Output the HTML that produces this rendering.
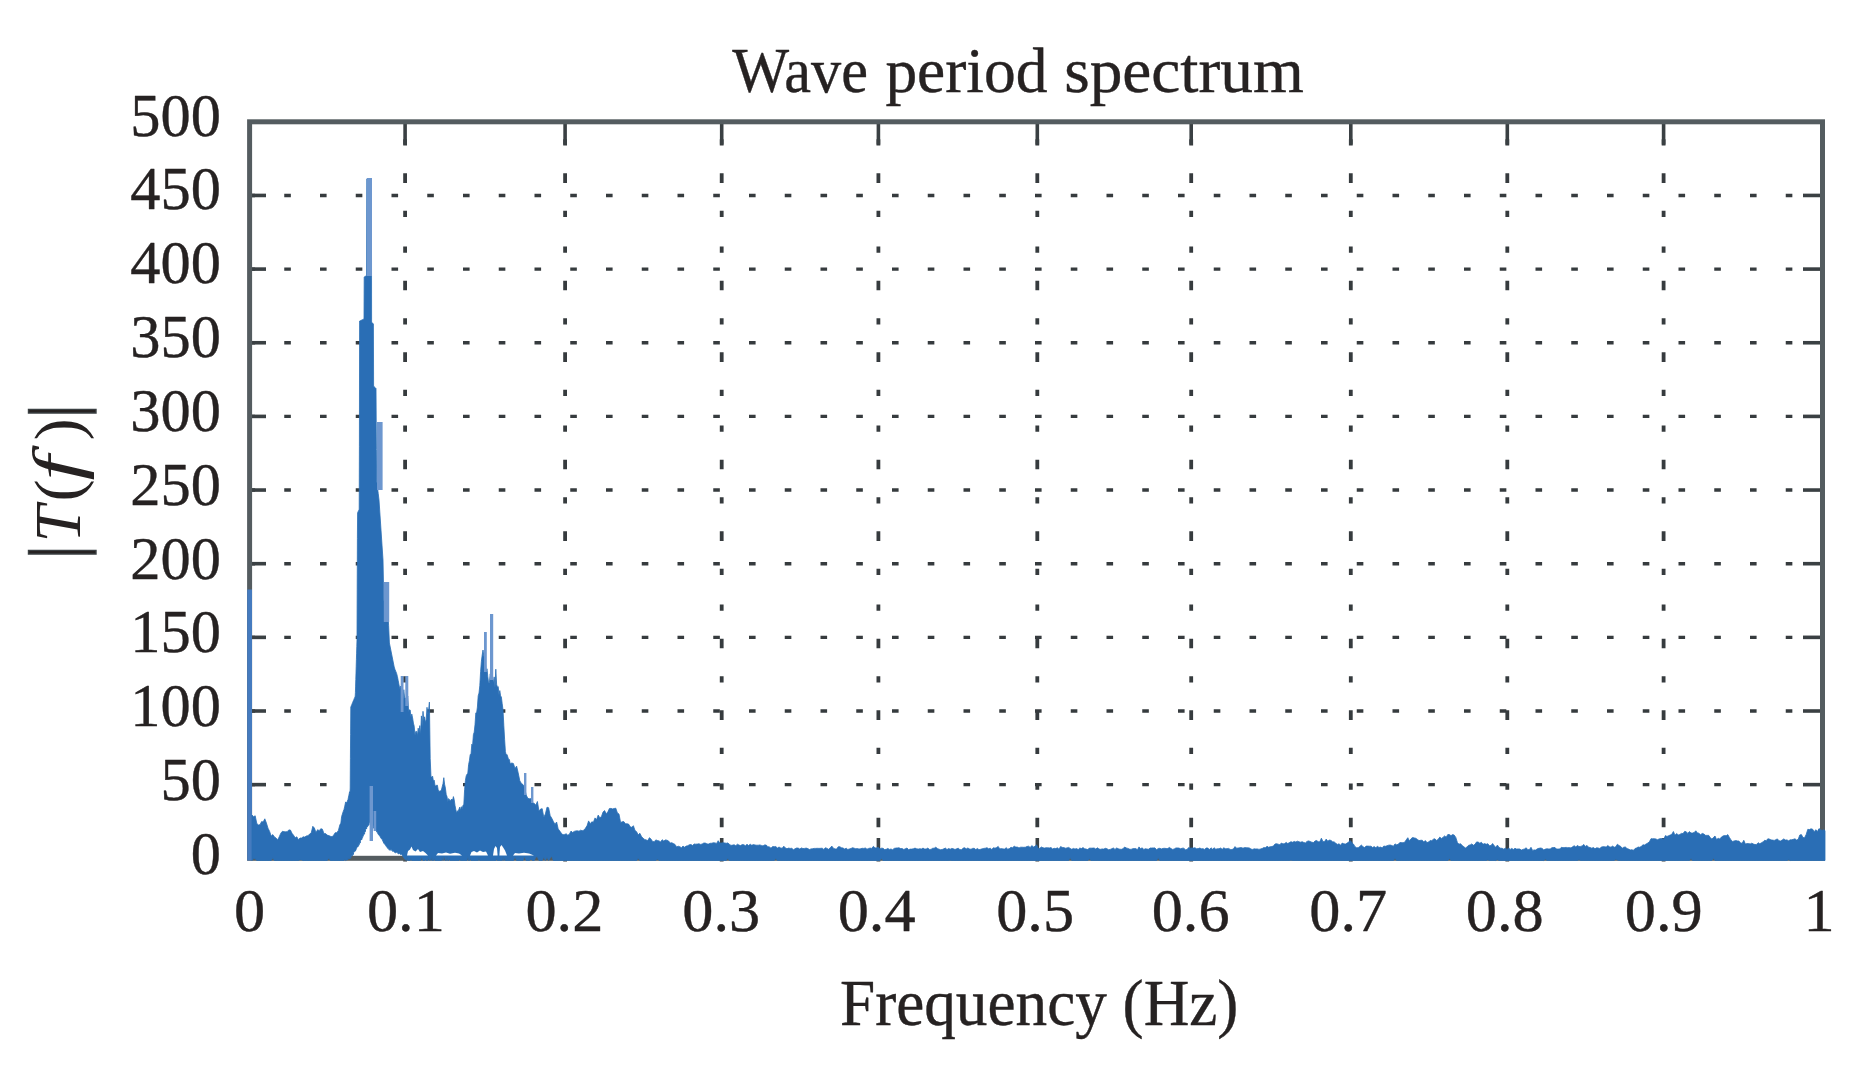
<!DOCTYPE html>
<html lang="en"><head><meta charset="utf-8"><title>Wave period spectrum</title>
<style>
html,body{margin:0;padding:0;background:#fff;}
body{width:1872px;height:1070px;overflow:hidden;}
svg{display:block;filter:blur(0.55px);}
text{font-family:"Liberation Serif","DejaVu Serif",serif;fill:#262222;}
.tk{font-size:60px;}
</style></head><body>
<svg width="1872" height="1070" viewBox="0 0 1872 1070">
<rect width="1872" height="1070" fill="#fff"/>

<g stroke="#363b3e" fill="none">
<line x1="248.5" y1="784.65" x2="1822" y2="784.65" stroke-width="3.4" stroke-dasharray="6.6 29.15"/>
<line x1="248.5" y1="711.00" x2="1822" y2="711.00" stroke-width="3.4" stroke-dasharray="6.6 29.15"/>
<line x1="248.5" y1="637.35" x2="1822" y2="637.35" stroke-width="3.4" stroke-dasharray="6.6 29.15"/>
<line x1="248.5" y1="563.70" x2="1822" y2="563.70" stroke-width="3.4" stroke-dasharray="6.6 29.15"/>
<line x1="248.5" y1="490.05" x2="1822" y2="490.05" stroke-width="3.4" stroke-dasharray="6.6 29.15"/>
<line x1="248.5" y1="416.40" x2="1822" y2="416.40" stroke-width="3.4" stroke-dasharray="6.6 29.15"/>
<line x1="248.5" y1="342.75" x2="1822" y2="342.75" stroke-width="3.4" stroke-dasharray="6.6 29.15"/>
<line x1="248.5" y1="269.10" x2="1822" y2="269.10" stroke-width="3.4" stroke-dasharray="6.6 29.15"/>
<line x1="248.5" y1="195.45" x2="1822" y2="195.45" stroke-width="3.4" stroke-dasharray="6.6 29.15"/>
<line x1="405.10" y1="861.40" x2="405.10" y2="122" stroke-width="3.8" stroke-dasharray="6.20 27.90 9.60 27.90 6.20 29.60 6.20 27.90 9.60 27.90"/>
<line x1="565.10" y1="861.40" x2="565.10" y2="122" stroke-width="3.8" stroke-dasharray="6.20 27.90 9.60 27.90 6.20 29.60 6.20 27.90 9.60 27.90"/>
<line x1="721.70" y1="861.40" x2="721.70" y2="122" stroke-width="3.8" stroke-dasharray="6.20 27.90 9.60 27.90 6.20 29.60 6.20 27.90 9.60 27.90"/>
<line x1="878.40" y1="861.40" x2="878.40" y2="122" stroke-width="3.8" stroke-dasharray="6.20 27.90 9.60 27.90 6.20 29.60 6.20 27.90 9.60 27.90"/>
<line x1="1037.30" y1="861.40" x2="1037.30" y2="122" stroke-width="3.8" stroke-dasharray="6.20 27.90 9.60 27.90 6.20 29.60 6.20 27.90 9.60 27.90"/>
<line x1="1191.20" y1="861.40" x2="1191.20" y2="122" stroke-width="3.8" stroke-dasharray="6.20 27.90 9.60 27.90 6.20 29.60 6.20 27.90 9.60 27.90"/>
<line x1="1350.80" y1="861.40" x2="1350.80" y2="122" stroke-width="3.8" stroke-dasharray="6.20 27.90 9.60 27.90 6.20 29.60 6.20 27.90 9.60 27.90"/>
<line x1="1507.30" y1="861.40" x2="1507.30" y2="122" stroke-width="3.8" stroke-dasharray="6.20 27.90 9.60 27.90 6.20 29.60 6.20 27.90 9.60 27.90"/>
<line x1="1663.60" y1="861.40" x2="1663.60" y2="122" stroke-width="3.8" stroke-dasharray="6.20 27.90 9.60 27.90 6.20 29.60 6.20 27.90 9.60 27.90"/>
</g>
<g stroke="#3a4043" stroke-width="3.6" fill="none">
<line x1="249.5" y1="784.65" x2="266" y2="784.65"/>
<line x1="1822.5" y1="784.65" x2="1803" y2="784.65"/>
<line x1="249.5" y1="711.00" x2="266" y2="711.00"/>
<line x1="1822.5" y1="711.00" x2="1803" y2="711.00"/>
<line x1="249.5" y1="637.35" x2="266" y2="637.35"/>
<line x1="1822.5" y1="637.35" x2="1803" y2="637.35"/>
<line x1="249.5" y1="563.70" x2="266" y2="563.70"/>
<line x1="1822.5" y1="563.70" x2="1803" y2="563.70"/>
<line x1="249.5" y1="490.05" x2="266" y2="490.05"/>
<line x1="1822.5" y1="490.05" x2="1803" y2="490.05"/>
<line x1="249.5" y1="416.40" x2="266" y2="416.40"/>
<line x1="1822.5" y1="416.40" x2="1803" y2="416.40"/>
<line x1="249.5" y1="342.75" x2="266" y2="342.75"/>
<line x1="1822.5" y1="342.75" x2="1803" y2="342.75"/>
<line x1="249.5" y1="269.10" x2="266" y2="269.10"/>
<line x1="1822.5" y1="269.10" x2="1803" y2="269.10"/>
<line x1="249.5" y1="195.45" x2="266" y2="195.45"/>
<line x1="1822.5" y1="195.45" x2="1803" y2="195.45"/>
<line x1="405.10" y1="121.80" x2="405.10" y2="144.5"/>
<line x1="405.10" y1="858.30" x2="405.10" y2="838"/>
<line x1="565.10" y1="121.80" x2="565.10" y2="144.5"/>
<line x1="565.10" y1="858.30" x2="565.10" y2="838"/>
<line x1="721.70" y1="121.80" x2="721.70" y2="144.5"/>
<line x1="721.70" y1="858.30" x2="721.70" y2="838"/>
<line x1="878.40" y1="121.80" x2="878.40" y2="144.5"/>
<line x1="878.40" y1="858.30" x2="878.40" y2="838"/>
<line x1="1037.30" y1="121.80" x2="1037.30" y2="144.5"/>
<line x1="1037.30" y1="858.30" x2="1037.30" y2="838"/>
<line x1="1191.20" y1="121.80" x2="1191.20" y2="144.5"/>
<line x1="1191.20" y1="858.30" x2="1191.20" y2="838"/>
<line x1="1350.80" y1="121.80" x2="1350.80" y2="144.5"/>
<line x1="1350.80" y1="858.30" x2="1350.80" y2="838"/>
<line x1="1507.30" y1="121.80" x2="1507.30" y2="144.5"/>
<line x1="1507.30" y1="858.30" x2="1507.30" y2="838"/>
<line x1="1663.60" y1="121.80" x2="1663.60" y2="144.5"/>
<line x1="1663.60" y1="858.30" x2="1663.60" y2="838"/>
</g>
<rect x="249.6" y="121.8" width="1572.9" height="736.5" fill="none" stroke="#545c60" stroke-width="5"/>
<rect x="247.2" y="589.5" width="4.8" height="271" fill="#457bbf"/>
<path fill="#2a6eb5" stroke="#2a6eb5" stroke-width="0.8" stroke-linejoin="round" d="M252,815.1 253.6,816.7 255.2,815.8 256.8,823.5 258.4,824.9 260,824.7 261.6,821.6 263.2,822 264.8,818.8 266.4,823 268,828.2 269.6,831.4 271.2,836.1 272.8,834.6 274.4,836.9 276,838 277.6,839.9 279.2,836.9 280.8,833.2 282.4,831.3 284,831.7 285.6,831.8 287.2,831.7 288.8,829.9 290.4,830 292,833.3 293.6,835.3 295.2,837.8 296.8,836.8 298.4,839.7 300,838 301.6,838 303.2,836.8 304.8,837.1 306.4,835.9 308,835.8 309.6,834 311.2,833.1 312.8,826.3 314.4,828 316,832.6 317.6,829.7 319.2,830.7 320.8,828.7 322.4,829.2 324,833.7 325.6,833.6 327.2,835.1 328.8,835.6 330.4,836.3 332,836.7 333.6,835.3 335.2,832.7 336.8,832.7 338.4,830.4 340,824.3 340.8,823.6 341.6,816.6 342.4,814.1 343.2,811.5 344,809.4 344.8,806.1 345.6,801.9 346.4,802.8 347.2,801.5 348,799.5 348.8,795.6 349.6,791.7 349.8,792.3 350,793 350.2,787.9 350.4,758.6 350.6,734.7 350.8,707 351,706.5 351.2,706 351.4,705.5 351.6,705 351.8,704.6 352,704.1 352.2,703.6 352.4,703.1 352.6,702.6 352.8,702.1 353,701.6 353.2,701.1 353.4,700.6 353.6,700.2 353.8,699.7 354,699.2 354.2,698.7 354.4,698.2 354.6,697.7 354.8,697.2 355,696.7 355.2,696.2 355.4,692.7 355.6,686.1 355.8,679.5 356,672.9 356.2,666.4 356.4,659.8 356.6,653.2 356.8,646.6 357,640 357.2,589.2 357.4,538.4 357.6,512.8 357.8,512.3 358,511.9 358.2,511.4 358.4,511 358.6,510.6 358.8,510.1 359,509.7 359.2,509.2 359.4,446.3 359.6,321 359.8,320.9 360,320.8 360.2,320.7 360.4,320.6 360.6,320.5 360.8,320.5 361,320.4 361.2,320.3 361.4,320.2 361.6,320.1 361.8,320 362,319.9 362.2,319.8 362.4,319.7 362.6,319.6 362.8,319.5 363,319.5 363.2,319.4 363.4,319.3 363.6,319.2 363.8,319.1 364,319 364.2,277 364.4,276.9 364.6,276.7 364.8,276.6 365,276.5 365.2,276.4 365.4,276.2 365.6,276.1 365.8,276 366,275.9 366.2,275.7 366.4,275.6 366.6,275.5 366.8,179 367,179 367.2,179 367.4,179 367.6,179 367.8,179 368,179 368.2,179 368.4,179 368.6,179 368.8,179 369,179 369.2,179 369.4,179 369.6,179 369.8,179 370,179 370.2,179 370.4,179 370.6,179 370.8,179 371,179 371.2,179 371.4,179 371.6,322 371.8,322.2 372,322.4 372.2,322.7 372.4,322.9 372.6,323.1 372.8,323.3 373,323.6 373.2,323.8 373.4,324 373.6,386 373.8,386.2 374,386.4 374.2,386.6 374.4,386.8 374.6,387 374.8,387.2 375,387.5 375.2,387.7 375.4,387.9 375.6,388.1 375.8,388.3 376,388.5 376.2,419 376.4,449.5 376.6,480 376.8,481.7 377,483.3 377.2,485 377.4,486.7 377.6,488.3 377.8,490 378,491.7 378.2,493.3 379,500 379.8,512 380.6,524 381.4,536 382.2,548 383,560 383.8,600.3 384.6,602.5 385.4,604.7 386.2,607 387,609.2 387.8,611.4 388.6,625.3 389.4,643 390.2,647 391,651 391.8,655 392.6,659 393.4,663 394.2,667 395,669.5 395.8,671.4 396.6,673.4 397.4,676.5 398.2,680.6 399,684.8 399.8,689 400.6,686.1 401.4,687.5 402.2,696.7 403,699.8 403.8,689.7 404.6,697.6 405.4,697.9 406.2,702.1 407,698.4 407.8,696.1 408.6,711.4 409.4,709.8 410.2,710.1 411,717.3 411.8,714.1 412.6,717.9 413.4,723.1 414.2,726.2 415,735.3 415.8,731.4 416.6,731.5 417.4,735.8 418.2,728.2 419,733.1 419.8,725.6 420.6,735 421.4,715.9 422.2,726.8 423,711.3 423.8,720.7 424.6,716.8 425.4,722.6 426.2,719.5 427,707.3 427.8,714.4 428.6,710.3 429.4,702.1 430.2,758.6 431,777 431.8,777.1 432.6,776.2 433.4,781.1 434.2,780.2 435,785.5 435.8,786 436.6,785.2 437.4,785.2 438.2,789.9 439,791.6 439.8,790.9 440.6,790.8 441.4,790.1 442.2,786.8 443,783.7 443.8,777.7 444.6,784.3 445.4,788.1 446.2,794.4 447,796.6 447.8,801.8 448.6,798.6 449.4,799.5 450.2,801.3 451,799.8 451.8,799 452.6,800.3 453.4,796.6 454.2,799.7 455,805.4 455.8,809.5 456.6,813.3 457.4,810.7 458.2,811.5 459,809 459.8,807.1 460.6,810.5 461.4,806.7 462.2,808.7 463,805.2 463.8,804.8 464.6,789.7 465.4,780.6 466.2,775.9 467,774.2 467.8,773.3 468.6,764.6 469.4,760.7 470.2,754.5 471,754.3 471.8,744.2 472.6,745.3 473.4,734.6 474.2,732.2 475,724.8 475.8,712.9 476.6,713 477.4,707.1 478.2,695.8 479,693.1 479.8,685.7 480.6,671.6 481.4,661.3 482.2,655 483,650 483.8,655.9 484.6,659 485.4,662.7 486.2,671.4 487,668.8 487.8,676.6 488.6,683 489.4,682.8 490.2,673.9 491,676.5 491.8,665.6 492.6,677.3 493.4,683.3 494.2,676.9 495,687.8 495.8,669.2 496.6,684.2 497.4,687.2 498.2,686.6 499,694.9 499.8,690.6 500.6,695.9 501.4,697.1 502.2,703.7 503,709.7 503.8,725.3 504.6,739.3 505.4,751.5 506.2,755 507,754.4 507.8,757 508.6,759.5 509.4,759.5 510.2,763.8 511.8,763 513.4,763.5 515,768.6 516.6,766.1 518.2,772.9 519.8,780.8 521.4,783.4 523,784.6 524.6,787.8 526.2,795 527.8,798.3 529.4,798.7 531,798.7 532.6,802.9 534.2,803.3 535.8,805.2 537.4,801.5 539,811.3 540.6,809 542.2,808.7 543.8,817.2 545.4,813.9 547,807.2 548.6,807.7 550.2,815.7 551.8,818.3 553.4,821.6 555,824.4 556.6,822 558.2,828.9 559.8,831.1 561.4,833.3 563,834.8 564.6,834.4 566.2,833.8 567.8,835.2 569.4,834.2 571,831.1 572.6,832.5 574.2,831.4 575.8,830.9 577.4,830.8 579,831.2 580.6,830.2 582.2,830.7 583.8,830.2 585.4,828.3 587,825.8 588.6,820.9 590.2,823.7 591.8,821.8 593.4,822.3 595,817.9 596.6,819.6 598.2,815.1 599.8,817.8 601.4,816.7 603,812.1 604.6,810.6 606.2,813.7 607.8,812 609.4,808.5 611,808.4 612.6,808.9 614.2,808.5 615.8,808.2 617.4,812.9 619,814.1 620.6,822.5 622.2,821.8 623.8,821.6 625.4,823.8 627,823.8 628.6,824.1 630.2,826.8 631.8,827.3 633.4,825.7 635,830.5 636.6,831.7 638.2,835 639.8,833.2 641.4,836.3 643,838.2 644.6,839.4 646.2,839.9 647.8,840.6 649.4,837.7 651,839.1 652.6,841.5 654.2,841.7 655.8,839.9 657.4,840.5 659,840.9 660.6,841.9 662.2,839.7 663.8,841.1 665.4,839.9 667,840.2 668.6,841 670.2,843.1 671.8,842.7 673.4,843.6 675,844.4 676.6,846.9 678.2,846.2 679.8,846.7 681.4,847.7 683,846.1 684.6,847.2 686.2,846.1 687.8,845.7 689.4,844.7 691,844.6 692.6,845.5 694.2,843.9 695.8,844.2 697.4,844 699,843.8 700.6,844.4 702.2,844 703.8,843 705.4,843.1 707,843.9 708.6,844 710.2,843.3 711.8,843.2 713.4,842.7 715,842.9 716.6,843.4 718.2,840.7 719.8,843.1 721.4,843 723,842.8 724.6,842.9 726.2,843.3 727.8,842.9 729.4,844.3 731,845.4 732.6,845.1 734.2,844.8 735.8,845.7 737.4,844.2 739,845.1 740.6,845.6 742.2,844.6 743.8,844.7 745.4,845.8 747,844.3 748.6,845.6 750.2,844.2 751.8,845.3 753.4,844.6 755,845 756.6,845.2 758.2,845.2 759.8,844.9 761.4,845.4 763,845.9 764.6,844.9 766.2,845 767.8,846.7 769.4,846.9 771,848.2 772.6,846.5 774.2,846.7 775.8,846.6 777.4,848.1 779,847 780.6,847.9 782.2,848.3 783.8,846.2 785.4,848 787,848.7 788.6,848.1 790.2,848.4 791.8,848.3 793.4,849.7 795,848.8 796.6,848 798.2,848.1 799.8,849.1 801.4,847.9 803,848.6 804.6,848.4 806.2,848.1 807.8,848.6 809.4,849.5 811,848.9 812.6,848.7 814.2,848.4 815.8,848.4 817.4,848.3 819,848.4 820.6,848.3 822.2,848.2 823.8,849.4 825.4,847.7 827,848.4 828.6,849.3 830.2,847.8 831.8,846.1 833.4,848.2 835,848.9 836.6,849.1 838.2,846.8 839.8,846.7 841.4,847.7 843,848 844.6,849 846.2,848.2 847.8,849.5 849.4,848.9 851,848.5 852.6,847.7 854.2,848.2 855.8,848.8 857.4,848.5 859,849.1 860.6,848.7 862.2,848.3 863.8,848.4 865.4,848 867,849.2 868.6,848.4 870.2,848.1 871.8,848.4 873.4,846.3 875,847.9 876.6,847.9 878.2,847.3 879.8,849 881.4,848.2 883,848.3 884.6,849.6 886.2,849.3 887.8,848.4 889.4,849.4 891,849 892.6,849.7 894.2,848.4 895.8,848.1 897.4,847.9 899,847.8 900.6,848.6 902.2,848.6 903.8,849.5 905.4,848.7 907,848 908.6,849.7 910.2,849.1 911.8,849.1 913.4,848.8 915,848.1 916.6,848.8 918.2,849.1 919.8,848.7 921.4,849 923,848.1 924.6,849 926.2,849 927.8,848.1 929.4,849.4 931,849.4 932.6,848.3 934.2,848.2 935.8,847.2 937.4,848.6 939,849.2 940.6,849.7 942.2,849.5 943.8,848.8 945.4,848.1 947,849.6 948.6,848.5 950.2,849.2 951.8,848.4 953.4,848.8 955,849.5 956.6,848.8 958.2,848.2 959.8,849.5 961.4,849.8 963,848.2 964.6,847.7 966.2,848.9 967.8,848 969.4,848.9 971,849.3 972.6,848.4 974.2,848.3 975.8,849.6 977.4,848.5 979,849.7 980.6,849.3 982.2,848.8 983.8,848.4 985.4,848.2 987,847.7 988.6,848.8 990.2,848.2 991.8,849.5 993.4,847.7 995,848.2 996.6,847.6 998.2,846.4 999.8,848.9 1001.4,848.6 1003,848.9 1004.6,849 1006.2,847.7 1007.8,849.2 1009.4,848.6 1011,847.3 1012.6,847.7 1014.2,846.2 1015.8,847.1 1017.4,847.1 1019,847.9 1020.6,847.2 1022.2,847.2 1023.8,847.3 1025.4,847.2 1027,846.5 1028.6,846.2 1030.2,847.5 1031.8,845.6 1033.4,847 1035,846.3 1036.6,844.9 1038.2,848.5 1039.8,848.3 1041.4,847 1043,847.8 1044.6,848.1 1046.2,847.7 1047.8,847.8 1049.4,847.9 1051,847.6 1052.6,848.9 1054.2,848.3 1055.8,848.6 1057.4,847.8 1059,849.2 1060.6,846.5 1062.2,847.4 1063.8,847.6 1065.4,848.2 1067,847.9 1068.6,847.4 1070.2,848.4 1071.8,849.3 1073.4,848.4 1075,849.1 1076.6,848.6 1078.2,849.6 1079.8,848 1081.4,848.6 1083,847.6 1084.6,848.8 1086.2,849.1 1087.8,849.6 1089.4,848 1091,848.2 1092.6,848.1 1094.2,848 1095.8,849.1 1097.4,847.8 1099,849 1100.6,849.3 1102.2,848.9 1103.8,849.1 1105.4,848.3 1107,848.8 1108.6,849.7 1110.2,849.4 1111.8,848.7 1113.4,848 1115,849.4 1116.6,848 1118.2,848.7 1119.8,849.2 1121.4,849.3 1123,848.8 1124.6,847 1126.2,847.9 1127.8,848.4 1129.4,849.1 1131,849.4 1132.6,848.7 1134.2,848.6 1135.8,848.6 1137.4,849.8 1139,846.9 1140.6,848.8 1142.2,847.8 1143.8,849.5 1145.4,848.7 1147,849.1 1148.6,849.2 1150.2,848 1151.8,848 1153.4,847.9 1155,847.9 1156.6,849.8 1158.2,848.5 1159.8,848.3 1161.4,848.9 1163,848.4 1164.6,848.3 1166.2,848.5 1167.8,848.5 1169.4,847.4 1171,848.6 1172.6,849.4 1174.2,849 1175.8,848 1177.4,847.9 1179,848.1 1180.6,848.8 1182.2,848.2 1183.8,848.2 1185.4,849.7 1187,849.6 1188.6,847.6 1190.2,848.2 1191.8,848 1193.4,848 1195,847.8 1196.6,848.8 1198.2,848.6 1199.8,848 1201.4,848.8 1203,848.7 1204.6,849.4 1206.2,848 1207.8,848.1 1209.4,849.6 1211,847.8 1212.6,849.2 1214.2,847.8 1215.8,849.2 1217.4,848.7 1219,848.8 1220.6,848 1222.2,849.3 1223.8,847.8 1225.4,848.7 1227,848.7 1228.6,848.4 1230.2,849.4 1231.8,849.5 1233.4,849 1235,846.6 1236.6,848.2 1238.2,848 1239.8,847.7 1241.4,847.6 1243,848.2 1244.6,847.6 1246.2,847.7 1247.8,847.8 1249.4,848 1251,849.1 1252.6,849.4 1254.2,848.8 1255.8,849 1257.4,848.9 1259,849.4 1260.6,848.9 1262.2,848.5 1263.8,847.6 1265.4,847.8 1267,846.2 1268.6,847.3 1270.2,846.7 1271.8,846.5 1273.4,846.1 1275,844 1276.6,843.7 1278.2,844.2 1279.8,844.7 1281.4,843 1283,843.9 1284.6,843.6 1286.2,842.4 1287.8,843.6 1289.4,842.6 1291,841.7 1292.6,842.3 1294.2,841.4 1295.8,842 1297.4,841.2 1299,841.8 1300.6,842.2 1302.2,841.7 1303.8,842.5 1305.4,842.9 1307,841.4 1308.6,840.9 1310.2,841.5 1311.8,842.2 1313.4,842.6 1315,841 1316.6,840.5 1318.2,841.7 1319.8,841.8 1321.4,838.2 1323,841.7 1324.6,841.5 1326.2,839.1 1327.8,841.2 1329.4,840.1 1331,840.4 1332.6,841.8 1334.2,841.9 1335.8,843.3 1337.4,844.4 1339,843.8 1340.6,845.2 1342.2,843.1 1343.8,843.8 1345.4,844.1 1347,843.2 1348.6,842 1350.2,840.5 1351.8,842.5 1353.4,844 1355,846.7 1356.6,847.7 1358.2,847.7 1359.8,846.4 1361.4,845.1 1363,846.7 1364.6,847.6 1366.2,846 1367.8,846.1 1369.4,846.2 1371,846.2 1372.6,847.5 1374.2,846.6 1375.8,847.8 1377.4,846.2 1379,847.5 1380.6,847.1 1382.2,847.9 1383.8,846 1385.4,846.3 1387,845.8 1388.6,845.2 1390.2,845 1391.8,845.5 1393.4,846.2 1395,843.9 1396.6,844.8 1398.2,844.3 1399.8,842.6 1401.4,842.6 1403,842.8 1404.6,842.3 1406.2,839.9 1407.8,837.7 1409.4,840.9 1411,838.8 1412.6,837.5 1414.2,837.9 1415.8,838.3 1417.4,839.4 1419,840.6 1420.6,840.3 1422.2,840.2 1423.8,841.9 1425.4,840.6 1427,842.6 1428.6,842 1430.2,840.4 1431.8,840.7 1433.4,839.2 1435,838.8 1436.6,840.6 1438.2,839.3 1439.8,837.1 1441.4,838.5 1443,837.4 1444.6,835.9 1446.2,837.2 1447.8,834.5 1449.4,834.6 1451,835.7 1452.6,834.6 1454.2,835.1 1455.8,837.4 1457.4,842.5 1459,844.2 1460.6,843.7 1462.2,845.6 1463.8,846.7 1465.4,848 1467,847 1468.6,845.3 1470.2,844.9 1471.8,843.9 1473.4,845.3 1475,844.3 1476.6,841.9 1478.2,842.1 1479.8,843.2 1481.4,842.3 1483,844.3 1484.6,843.6 1486.2,844.3 1487.8,843.7 1489.4,845.7 1491,845.5 1492.6,843.5 1494.2,845.8 1495.8,847.3 1497.4,845.1 1499,847.4 1500.6,848.2 1502.2,848.3 1503.8,849.2 1505.4,848 1507,849.6 1508.6,848 1510.2,849.4 1511.8,848.4 1513.4,849.5 1515,848.3 1516.6,849.1 1518.2,848.9 1519.8,849 1521.4,850.1 1523,849.4 1524.6,848.9 1526.2,847.8 1527.8,849.7 1529.4,849.6 1531,847.3 1532.6,850.4 1534.2,849.9 1535.8,850 1537.4,848.7 1539,848.3 1540.6,848 1542.2,848.4 1543.8,849.9 1545.4,849.1 1547,848.8 1548.6,848.9 1550.2,849 1551.8,847.8 1553.4,847.5 1555,847.5 1556.6,849.1 1558.2,849 1559.8,848.9 1561.4,847.3 1563,847.7 1564.6,847.5 1566.2,847.4 1567.8,847.7 1569.4,847.6 1571,847.9 1572.6,846.8 1574.2,845.7 1575.8,847 1577.4,845.4 1579,846.6 1580.6,846.4 1582.2,845.9 1583.8,844.4 1585.4,846.5 1587,845.4 1588.6,847.3 1590.2,847.5 1591.8,848.2 1593.4,847.5 1595,848.8 1596.6,847.8 1598.2,848 1599.8,848.5 1601.4,847.1 1603,846.7 1604.6,846.7 1606.2,847.1 1607.8,845.6 1609.4,846.8 1611,847.2 1612.6,846.1 1614.2,847.3 1615.8,846.7 1617.4,844.2 1619,845.5 1620.6,846.3 1622.2,848.3 1623.8,847.2 1625.4,847 1627,848.6 1628.6,849.1 1630.2,849.9 1631.8,849.7 1633.4,850.3 1635,848.6 1636.6,847.9 1638.2,847 1639.8,847.3 1641.4,846.3 1643,844.8 1644.6,845 1646.2,843.9 1647.8,843 1649.4,841.8 1651,838.7 1652.6,838.8 1654.2,838.7 1655.8,838.9 1657.4,839.7 1659,839 1660.6,838.6 1662.2,838.8 1663.8,839.2 1665.4,835.6 1667,836.5 1668.6,835.7 1670.2,835.1 1671.8,834.3 1673.4,831.5 1675,835.3 1676.6,833.5 1678.2,834.9 1679.8,834.5 1681.4,833.4 1683,833.6 1684.6,831.4 1686.2,831.7 1687.8,833.4 1689.4,831.6 1691,833 1692.6,833 1694.2,832.5 1695.8,830.8 1697.4,832.9 1699,833.2 1700.6,834.8 1702.2,833.4 1703.8,833.9 1705.4,835.3 1707,835.4 1708.6,835.3 1710.2,837.4 1711.8,839.1 1713.4,837.5 1715,836 1716.6,839.6 1718.2,838.3 1719.8,839 1721.4,837.1 1723,836 1724.6,835.5 1726.2,835.8 1727.8,834.6 1729.4,837.4 1731,839.9 1732.6,841.5 1734.2,840.9 1735.8,840.6 1737.4,840.9 1739,841.1 1740.6,843 1742.2,843.2 1743.8,840.3 1745.4,844.1 1747,843.6 1748.6,843.6 1750.2,843.9 1751.8,843.2 1753.4,844 1755,844.6 1756.6,844.4 1758.2,842.7 1759.8,843.8 1761.4,842.8 1763,841.9 1764.6,840.3 1766.2,840.7 1767.8,838.8 1769.4,839.1 1771,839.9 1772.6,840.1 1774.2,840.4 1775.8,839.7 1777.4,838.9 1779,840.8 1780.6,841 1782.2,840 1783.8,838.9 1785.4,840 1787,839.9 1788.6,840.8 1790.2,839.8 1791.8,839.8 1793.4,839.3 1795,838.8 1796.6,840.1 1798.2,839.3 1799.8,835 1801.4,834.6 1803,837.6 1804.6,837.7 1806.2,834.4 1807.8,829.3 1809.4,829.6 1811,828.8 1812.6,829.2 1814.2,831.7 1815.8,829.7 1817.4,831.6 1819,828.6 1820.6,829.8 1822.2,830.5 1823.8,829.8 1825,830.6 L1825,860.5 1823.8,860.5 1822.2,860.5 1820.6,860.5 1819,860.5 1817.4,860.5 1815.8,860.5 1814.2,860.5 1812.6,860.5 1811,860.5 1809.4,860.5 1807.8,860.5 1806.2,860.5 1804.6,860.5 1803,860.5 1801.4,860.5 1799.8,860.5 1798.2,860.5 1796.6,860.5 1795,860.5 1793.4,860.5 1791.8,860.5 1790.2,860.5 1788.6,859.5 1787,860.5 1785.4,860.5 1783.8,860.5 1782.2,860.5 1780.6,860.5 1779,860.5 1777.4,860.5 1775.8,860.5 1774.2,860.5 1772.6,860.5 1771,860.5 1769.4,860.5 1767.8,860.5 1766.2,860.5 1764.6,860.5 1763,860.5 1761.4,860.5 1759.8,860.5 1758.2,860.5 1756.6,860.5 1755,860.5 1753.4,860.5 1751.8,860.5 1750.2,860.5 1748.6,860.5 1747,860.5 1745.4,860.5 1743.8,860.5 1742.2,860.5 1740.6,860.5 1739,860.5 1737.4,860.5 1735.8,860.5 1734.2,860.5 1732.6,860.5 1731,860.5 1729.4,860.5 1727.8,860.5 1726.2,860.5 1724.6,860.5 1723,860.5 1721.4,860.5 1719.8,860.5 1718.2,860.5 1716.6,860.5 1715,860.5 1713.4,858.1 1711.8,860.5 1710.2,860.5 1708.6,860.5 1707,860.5 1705.4,860.5 1703.8,860.5 1702.2,860.5 1700.6,860.5 1699,860.5 1697.4,860.5 1695.8,860.5 1694.2,860.5 1692.6,860.5 1691,858.2 1689.4,860.5 1687.8,860.5 1686.2,860.5 1684.6,860.5 1683,860.5 1681.4,860.5 1679.8,860.5 1678.2,860.5 1676.6,860.5 1675,860.5 1673.4,860.5 1671.8,860.5 1670.2,860.5 1668.6,860.5 1667,860.5 1665.4,860.5 1663.8,860.5 1662.2,860.5 1660.6,860.5 1659,860.5 1657.4,860.5 1655.8,860.5 1654.2,860.5 1652.6,860.5 1651,860.5 1649.4,860.5 1647.8,860.5 1646.2,860.5 1644.6,860.5 1643,860.5 1641.4,860.5 1639.8,860.5 1638.2,860.5 1636.6,860.5 1635,860.5 1633.4,860.5 1631.8,860.5 1630.2,860.5 1628.6,860.5 1627,860.5 1625.4,860.5 1623.8,860.5 1622.2,860.5 1620.6,860.5 1619,860.5 1617.4,860 1615.8,858.9 1614.2,860.5 1612.6,860.5 1611,860.5 1609.4,860.5 1607.8,860.5 1606.2,860.5 1604.6,860.5 1603,860.5 1601.4,860.5 1599.8,860.5 1598.2,860.5 1596.6,860.5 1595,860.5 1593.4,860.5 1591.8,860.5 1590.2,860.5 1588.6,860.5 1587,860.5 1585.4,860.5 1583.8,860.5 1582.2,860.5 1580.6,860.5 1579,859.6 1577.4,860.5 1575.8,860.5 1574.2,860.5 1572.6,860.5 1571,860.5 1569.4,860.5 1567.8,860.5 1566.2,860.5 1564.6,860.5 1563,860.5 1561.4,860.5 1559.8,860.5 1558.2,860.5 1556.6,860.5 1555,860.5 1553.4,860.5 1551.8,860.5 1550.2,860.5 1548.6,860.5 1547,860.5 1545.4,859.1 1543.8,860.5 1542.2,860.5 1540.6,860.5 1539,860.5 1537.4,860.5 1535.8,860.5 1534.2,860.5 1532.6,860.5 1531,860.5 1529.4,860.5 1527.8,860.5 1526.2,860.5 1524.6,860.5 1523,860.5 1521.4,860.5 1519.8,860.5 1518.2,860.5 1516.6,860.5 1515,860.5 1513.4,860.5 1511.8,860.5 1510.2,860.5 1508.6,860.5 1507,860.5 1505.4,860.5 1503.8,860.5 1502.2,860.5 1500.6,860.5 1499,860.5 1497.4,859.4 1495.8,860.5 1494.2,860.5 1492.6,860.5 1491,860.5 1489.4,860.5 1487.8,859.7 1486.2,860.5 1484.6,860.5 1483,860.5 1481.4,860.5 1479.8,860.5 1478.2,860.5 1476.6,860.5 1475,860.5 1473.4,860.5 1471.8,860.5 1470.2,860.5 1468.6,860.5 1467,860.5 1465.4,860.5 1463.8,860.5 1462.2,860.5 1460.6,860.5 1459,860.5 1457.4,860.5 1455.8,860.5 1454.2,860.5 1452.6,860.5 1451,860.5 1449.4,858.3 1447.8,860.5 1446.2,860.5 1444.6,860.5 1443,860.5 1441.4,860.5 1439.8,860.5 1438.2,860.5 1436.6,860.5 1435,860.5 1433.4,860.5 1431.8,860.5 1430.2,860.5 1428.6,860.5 1427,860.5 1425.4,860.5 1423.8,860.5 1422.2,860.5 1420.6,860.5 1419,860.5 1417.4,860.5 1415.8,860.5 1414.2,860.5 1412.6,860.5 1411,860.5 1409.4,860.5 1407.8,860.5 1406.2,860.5 1404.6,860.5 1403,860.5 1401.4,860.5 1399.8,860.5 1398.2,860.5 1396.6,860.5 1395,857.9 1393.4,860.5 1391.8,860.5 1390.2,860.5 1388.6,860.5 1387,860.5 1385.4,860.5 1383.8,860.5 1382.2,860.5 1380.6,860.5 1379,860.5 1377.4,860.5 1375.8,860.5 1374.2,860.5 1372.6,860.5 1371,860.5 1369.4,860.5 1367.8,860.5 1366.2,860.5 1364.6,860.5 1363,860.5 1361.4,860.5 1359.8,860.5 1358.2,860.5 1356.6,860.5 1355,860.5 1353.4,860.5 1351.8,860.5 1350.2,860.5 1348.6,860.5 1347,860.5 1345.4,860.5 1343.8,860.5 1342.2,860.5 1340.6,860.5 1339,860.5 1337.4,860.5 1335.8,860.5 1334.2,860.5 1332.6,860.5 1331,860.5 1329.4,860.5 1327.8,860.5 1326.2,860.5 1324.6,860.5 1323,860.5 1321.4,860.5 1319.8,860.5 1318.2,860.5 1316.6,860.5 1315,860.5 1313.4,860.5 1311.8,860.5 1310.2,860.5 1308.6,860.5 1307,860.5 1305.4,860.5 1303.8,860.5 1302.2,860.5 1300.6,860.5 1299,860.5 1297.4,860.5 1295.8,860.5 1294.2,860.5 1292.6,860.5 1291,860 1289.4,860.5 1287.8,860.5 1286.2,860.5 1284.6,860.5 1283,860.5 1281.4,860.5 1279.8,860.5 1278.2,860.5 1276.6,860.5 1275,860.5 1273.4,860.5 1271.8,860.5 1270.2,860.5 1268.6,860.5 1267,860.5 1265.4,860.5 1263.8,860.5 1262.2,860.5 1260.6,860.5 1259,860.5 1257.4,860.5 1255.8,860.5 1254.2,860.5 1252.6,860.5 1251,860.5 1249.4,860.5 1247.8,860.5 1246.2,860.5 1244.6,860.5 1243,860.5 1241.4,860.5 1239.8,860.5 1238.2,860.5 1236.6,860.5 1235,860.5 1233.4,860.5 1231.8,860.5 1230.2,860.5 1228.6,860.5 1227,860.5 1225.4,860.5 1223.8,860.5 1222.2,860.5 1220.6,860.5 1219,860.5 1217.4,860.5 1215.8,860.5 1214.2,860.5 1212.6,860.5 1211,860.5 1209.4,860.5 1207.8,860.5 1206.2,860.5 1204.6,860.5 1203,860.5 1201.4,860.5 1199.8,860.5 1198.2,860.5 1196.6,860.5 1195,860.5 1193.4,860.5 1191.8,860.5 1190.2,860.5 1188.6,860.5 1187,860.5 1185.4,860.5 1183.8,860.5 1182.2,860.5 1180.6,860.5 1179,860.5 1177.4,860.5 1175.8,860.5 1174.2,860.5 1172.6,860.5 1171,860.5 1169.4,860.5 1167.8,860.5 1166.2,860.5 1164.6,860.5 1163,860.5 1161.4,860.5 1159.8,860.5 1158.2,857.5 1156.6,860.5 1155,860.5 1153.4,860.5 1151.8,860.5 1150.2,860.5 1148.6,860.5 1147,860.5 1145.4,860.5 1143.8,860.5 1142.2,860.5 1140.6,860.5 1139,860.5 1137.4,860.5 1135.8,860.5 1134.2,860.5 1132.6,860.5 1131,860.5 1129.4,860.5 1127.8,860.5 1126.2,860.5 1124.6,860.5 1123,860.5 1121.4,860.5 1119.8,860.5 1118.2,860.5 1116.6,860.5 1115,860.5 1113.4,860.5 1111.8,860.5 1110.2,860.5 1108.6,860.5 1107,860.5 1105.4,860.5 1103.8,860.5 1102.2,860.5 1100.6,860.5 1099,860.5 1097.4,860.5 1095.8,860.5 1094.2,860.5 1092.6,860.5 1091,860.5 1089.4,858.7 1087.8,860.5 1086.2,860.5 1084.6,860.5 1083,860.5 1081.4,860.5 1079.8,860.5 1078.2,860.5 1076.6,860.5 1075,860.5 1073.4,860.5 1071.8,860.5 1070.2,857.5 1068.6,860.5 1067,860.5 1065.4,860.5 1063.8,860.5 1062.2,860.5 1060.6,860.5 1059,860.5 1057.4,860.5 1055.8,860.5 1054.2,860.5 1052.6,860.5 1051,860.5 1049.4,860.5 1047.8,860.5 1046.2,860.5 1044.6,860.5 1043,860.5 1041.4,860.5 1039.8,860.5 1038.2,860.5 1036.6,860.5 1035,860.5 1033.4,860.5 1031.8,860.5 1030.2,860.5 1028.6,860.5 1027,860.5 1025.4,860.5 1023.8,860.5 1022.2,860.5 1020.6,860.5 1019,860.5 1017.4,860.5 1015.8,860.5 1014.2,860.5 1012.6,860.5 1011,860.5 1009.4,860.5 1007.8,860.5 1006.2,860.5 1004.6,860.5 1003,860.5 1001.4,860.5 999.8,860.5 998.2,860.5 996.6,860.5 995,860.5 993.4,860.5 991.8,860.5 990.2,860.5 988.6,860.5 987,860.5 985.4,860.5 983.8,860.5 982.2,860.5 980.6,860.5 979,860.5 977.4,860.5 975.8,860.5 974.2,860.5 972.6,860.5 971,860.5 969.4,860.5 967.8,860.5 966.2,860.5 964.6,860.5 963,860.5 961.4,860.5 959.8,860.5 958.2,860.5 956.6,860.5 955,860.5 953.4,860.5 951.8,860.5 950.2,860.2 948.6,860.5 947,860.5 945.4,860.5 943.8,860.5 942.2,860.5 940.6,860.5 939,860.5 937.4,860.5 935.8,860.5 934.2,860.5 932.6,860.5 931,860.5 929.4,860.5 927.8,860.5 926.2,860.5 924.6,860.5 923,860.5 921.4,860.5 919.8,860.5 918.2,860.5 916.6,860.5 915,860.5 913.4,860.5 911.8,860.5 910.2,860.5 908.6,860.5 907,860.5 905.4,860.5 903.8,860.5 902.2,860.5 900.6,860.5 899,860.5 897.4,860.5 895.8,860.5 894.2,860.5 892.6,860.5 891,860.5 889.4,860.5 887.8,860.5 886.2,860.5 884.6,860.5 883,860.5 881.4,858.2 879.8,860.5 878.2,860.5 876.6,860.5 875,860.5 873.4,860.5 871.8,860.5 870.2,860.5 868.6,860.5 867,860.5 865.4,860.5 863.8,860.5 862.2,860.5 860.6,860.5 859,860.5 857.4,860.5 855.8,860.5 854.2,860.5 852.6,860.5 851,860.5 849.4,860.5 847.8,860.5 846.2,860.5 844.6,860.5 843,860.5 841.4,860.5 839.8,860.5 838.2,860.5 836.6,860.5 835,860.5 833.4,860.5 831.8,860.5 830.2,860.5 828.6,860.5 827,860.5 825.4,860.5 823.8,860.5 822.2,860.5 820.6,860.5 819,860.5 817.4,860.5 815.8,860.5 814.2,860.5 812.6,860.5 811,860.5 809.4,860.5 807.8,860.5 806.2,860.5 804.6,860.5 803,860.5 801.4,860.5 799.8,860.5 798.2,860.5 796.6,860.5 795,860.5 793.4,860.5 791.8,860.5 790.2,860.5 788.6,860.5 787,860.5 785.4,860.5 783.8,860.5 782.2,860.5 780.6,860.5 779,860.5 777.4,860.5 775.8,858.2 774.2,860.5 772.6,860.5 771,860.5 769.4,860.5 767.8,860.5 766.2,860.5 764.6,860.5 763,860.5 761.4,860.5 759.8,860.5 758.2,860.5 756.6,860.5 755,860.5 753.4,860.5 751.8,860.5 750.2,860.5 748.6,860.5 747,860.5 745.4,860.5 743.8,860.5 742.2,860.4 740.6,860.5 739,860.5 737.4,860.5 735.8,860.5 734.2,860.5 732.6,860.5 731,860.5 729.4,860.5 727.8,858.2 726.2,860.5 724.6,860.5 723,860.5 721.4,860.5 719.8,860.5 718.2,860.5 716.6,860.5 715,860.5 713.4,860.5 711.8,860.5 710.2,860.5 708.6,860.5 707,860.5 705.4,860.5 703.8,860.5 702.2,860.5 700.6,860.5 699,860.5 697.4,860.5 695.8,860.5 694.2,860.5 692.6,860.5 691,860.5 689.4,860.5 687.8,860.5 686.2,860.5 684.6,860.5 683,860.5 681.4,860.5 679.8,860.5 678.2,860.5 676.6,860.5 675,860.5 673.4,860.5 671.8,860.5 670.2,860.5 668.6,860.5 667,860.5 665.4,860.5 663.8,860.5 662.2,860.5 660.6,860.5 659,860.5 657.4,858.9 655.8,860.5 654.2,860.5 652.6,860.5 651,860.5 649.4,860.5 647.8,860.5 646.2,860.5 644.6,860.5 643,860.5 641.4,860.5 639.8,860.5 638.2,858.1 636.6,860.5 635,860.5 633.4,860.5 631.8,860.5 630.2,860.5 628.6,860.5 627,860.5 625.4,860.5 623.8,860.5 622.2,860.5 620.6,860.5 619,860.5 617.4,860.5 615.8,860.5 614.2,860.5 612.6,860.5 611,860.5 609.4,860.5 607.8,860.5 606.2,860.5 604.6,860.5 603,860.5 601.4,860.5 599.8,860.5 598.2,860.5 596.6,860.5 595,860.5 593.4,860.5 591.8,860.5 590.2,860.5 588.6,860.5 587,860.5 585.4,860.5 583.8,860.5 582.2,860.5 580.6,860.5 579,860.5 577.4,860.5 575.8,860.5 574.2,860.5 572.6,860.5 571,860.5 569.4,860.5 567.8,860.5 566.2,860.5 564.6,860.5 563,860.5 561.4,860.5 559.8,860.5 558.2,860.5 556.6,860.5 555,860.5 553.4,860.5 551.8,856.3 550.2,858 548.6,860.5 547,856.9 545.4,860.5 543.8,857 542.2,860.5 540.6,860.5 539,860.5 537.4,856.8 535.8,856.9 534.2,860.5 532.6,860.5 531,859 529.4,860.5 527.8,860.5 526.2,860.5 524.6,856.4 523,860.5 521.4,860.5 519.8,860.5 518.2,860.5 516.6,860.5 515,856.6 513.4,860.5 511.8,860.5 510.2,860.5 509.4,860.5 508.6,860.5 507.8,860.5 507,860.5 506.2,860.5 505.4,860.5 504.6,857 503.8,860.5 503,856.1 502.2,860.5 501.4,860.5 500.6,860.5 499.8,860.5 499,860.5 498.2,860.5 497.4,860.5 496.6,858.6 495.8,860.5 495,860.5 494.2,860.5 493.4,860.5 492.6,860.5 491.8,860.5 491,860.5 490.2,860.5 489.4,860.5 488.6,860.5 487.8,860.5 487,860.5 486.2,860.5 485.4,860.5 484.6,860.5 483.8,860.5 483,860.5 482.2,860.5 481.4,860.5 480.6,860.5 479.8,860.5 479,857.3 478.2,860.5 477.4,860.5 476.6,860.5 475.8,860.5 475,860.5 474.2,860.5 473.4,860.5 472.6,860.5 471.8,860.5 471,860.5 470.2,857.9 469.4,860.5 468.6,860.5 467.8,855.7 467,860.5 466.2,860.5 465.4,860.5 464.6,860.5 463.8,860.5 463,860.5 462.2,860.5 461.4,860.5 460.6,860.5 459.8,858.7 459,860.5 458.2,860.5 457.4,860.5 456.6,860.5 455.8,860.5 455,860.5 454.2,860.5 453.4,860.5 452.6,860.5 451.8,860.5 451,860.5 450.2,860.5 449.4,858.5 448.6,860.5 447.8,860.5 447,856.1 446.2,860.5 445.4,860.5 444.6,857.1 443.8,856.7 443,860.5 442.2,855.9 441.4,860.5 440.6,860.5 439.8,860.5 439,860.5 438.2,860.5 437.4,860.5 436.6,860.5 435.8,860.5 435,860.5 434.2,858.2 433.4,860.5 432.6,860.5 431.8,855.9 431,860.5 430.2,858.7 429.4,860.5 428.6,857.4 427.8,860.5 427,860.5 426.2,860.5 425.4,859.1 424.6,860.5 423.8,860.5 423,860.5 422.2,858.6 421.4,857 420.6,860.5 419.8,860.5 419,860.5 418.2,860.5 417.4,860.5 416.6,860.5 415.8,860.5 415,860.5 414.2,860.5 413.4,860.5 412.6,860.5 411.8,860.5 411,858.1 410.2,860.5 409.4,860.5 408.6,860.5 407.8,860.5 407,856.6 406.2,860.5 405.4,858.9 404.6,859.1 403.8,857.7 403,856.7 402.2,855 401.4,854.2 400.6,854.7 399.8,853.6 399,853.5 398.2,854 397.4,852.2 396.6,852.2 395.8,853 395,852.6 394.2,852.1 393.4,850.9 392.6,851.4 391.8,849.6 391,850.6 390.2,849 389.4,850.3 388.6,849.1 387.8,848.3 387,847.6 386.2,846.3 385.4,845.1 384.6,844 383.8,843.2 383,841.4 382.2,839.5 381.4,838.8 380.6,837.7 379.8,835.8 379,835.4 378.2,833.7 378,834.1 377.8,833.5 377.6,831.8 377.4,831.6 377.2,832.4 377,831.2 376.8,831 376.6,831.7 376.4,830.6 376.2,830.8 376,829.8 375.8,830.4 375.6,829 375.4,828.9 375.2,829.1 375,829.2 374.8,828.2 374.6,828.7 374.4,829 374.2,827.1 374,828.4 373.8,827.2 373.6,827.2 373.4,827.7 373.2,826.1 373,825.6 372.8,826.1 372.6,827 372.4,826.9 372.2,825.4 372,826.2 371.8,825.9 371.6,824.1 371.4,825 371.2,823.8 371,824.4 370.8,823.5 370.6,824.2 370.4,823.4 370.2,823.2 370,822.5 369.8,822.7 369.6,822.5 369.4,822.5 369.2,823.1 369,824.7 368.8,824.3 368.6,824.9 368.4,824 368.2,825.7 368,824.3 367.8,826 367.6,826.6 367.4,825.7 367.2,826.9 367,826.7 366.8,827.6 366.6,828.8 366.4,827.7 366.2,828.3 366,828.9 365.8,829.2 365.6,829.9 365.4,831.3 365.2,830.5 365,832 364.8,831.3 364.6,833.5 364.4,834 364.2,833.1 364,834.7 363.8,834.3 363.6,834.6 363.4,835.7 363.2,836.2 363,835.8 362.8,836.5 362.6,837.7 362.4,837.4 362.2,837.8 362,839.1 361.8,839.5 361.6,839.9 361.4,838.7 361.2,839.4 361,839.8 360.8,840.3 360.6,840.3 360.4,841.9 360.2,842.9 360,841.9 359.8,841.9 359.6,843.7 359.4,843.9 359.2,844.5 359,843.3 358.8,845.3 358.6,845.6 358.4,845.9 358.2,846.3 358,845.2 357.8,847 357.6,846.7 357.4,846 357.2,846.9 357,847.7 356.8,847.7 356.6,848.5 356.4,848.6 356.2,848.5 356,850.1 355.8,850.2 355.6,849.8 355.4,851.1 355.2,850.8 355,851 354.8,851.4 354.6,850.9 354.4,851.5 354.2,852 354,852 353.8,852.2 353.6,852.9 353.4,854.2 353.2,854.6 353,853.1 352.8,855.1 352.6,855.4 352.4,855.4 352.2,856 352,855.4 351.8,855.5 351.6,855.5 351.4,856 351.2,856.4 351,857.6 350.8,857.4 350.6,857.5 350.4,857.4 350.2,858.6 350,858.8 349.8,858.2 349.6,858.2 348.8,859.1 348,858.6 347.2,860 346.4,859.9 345.6,860.5 344.8,858.7 344,860.5 343.2,860.5 342.4,860.5 341.6,860.5 340.8,860.5 340,860.5 338.4,860.5 336.8,860.5 335.2,860.5 333.6,860.5 332,860.5 330.4,860.5 328.8,857.9 327.2,860.5 325.6,860.5 324,860.5 322.4,860.5 320.8,860.4 319.2,860.5 317.6,860.5 316,860.5 314.4,860.5 312.8,860.5 311.2,860.5 309.6,860.5 308,860.5 306.4,860.5 304.8,860.5 303.2,860.5 301.6,859.9 300,859.7 298.4,860.5 296.8,860.5 295.2,860.5 293.6,860.5 292,860.5 290.4,860.5 288.8,860.5 287.2,860.5 285.6,860.5 284,860.5 282.4,860.5 280.8,860.5 279.2,860.5 277.6,860.5 276,860.5 274.4,860.5 272.8,857.8 271.2,860.5 269.6,860.5 268,860.5 266.4,860.5 264.8,860.5 263.2,860.5 261.6,860.5 260,860.5 258.4,860.5 256.8,860.5 255.2,858.8 253.6,858.5 252,860.5Z"/>
<g fill="#fff">
<polygon points="407,855.5 408,851 410,849.5 411.5,846.5 413,850 415.5,851.5 418,849 420,852 423,851 425.5,853 428,855.5"/>
<polygon points="436,855.5 438,853 442,853.6 446,852.6 450,853.8 455,852.8 459,853.5 462,855.5"/>
<polygon points="470,855.5 471.5,852 474,851 477,852.5 480,850.5 483,852 486,851.5 488,855.5"/>
<polygon points="493,855.5 494,849 495.5,846 497,848 497.6,855.5"/>
<polygon points="499.4,855.5 500,847 501.5,845 503.5,848 505,850.5 507,855.5"/>
<polygon points="513,855.5 515,853 519,853.6 524,852.8 529,853.6 534,855.5"/>
</g>
<g fill="#6d97cf">
<rect x="366.8" y="178" width="5.2" height="98"/>
<rect x="377" y="422" width="5.6" height="68"/>
<rect x="383.8" y="582" width="5.4" height="40"/>
<rect x="400.7" y="676" width="2.8" height="36"/>
<rect x="405.3" y="676" width="3" height="30"/>
<rect x="484" y="632" width="2.8" height="40"/>
<rect x="490" y="614" width="3.2" height="66"/>
<rect x="524" y="773" width="2.4" height="22"/>
<rect x="531" y="787" width="2.4" height="16"/>
<rect x="369.6" y="786" width="3.4" height="55"/>
<rect x="373.6" y="811" width="2.6" height="20"/>
</g>
<g stroke="#262222" stroke-width="0.4" stroke-linejoin="round">
<text y="91.8" font-size="64" id="title"><tspan x="732.3" textLength="135.6" lengthAdjust="spacingAndGlyphs">Wave</tspan> <tspan x="885.4" textLength="162" lengthAdjust="spacingAndGlyphs">period</tspan> <tspan x="1064.2" textLength="239.6" lengthAdjust="spacingAndGlyphs">spectrum</tspan></text>
<text transform="translate(1039.2,1025.3) scale(0.958,1)" font-size="66" text-anchor="middle" id="xlabel">Frequency (Hz)</text>
<text class="yt" transform="translate(221,873.9) scale(0.975,1)" font-size="62" text-anchor="end">0</text>
<text class="yt" transform="translate(221,800.1) scale(0.975,1)" font-size="62" text-anchor="end">50</text>
<text class="yt" transform="translate(221,726.2) scale(0.975,1)" font-size="62" text-anchor="end">100</text>
<text class="yt" transform="translate(221,652.4) scale(0.975,1)" font-size="62" text-anchor="end">150</text>
<text class="yt" transform="translate(221,578.5) scale(0.975,1)" font-size="62" text-anchor="end">200</text>
<text class="yt" transform="translate(221,504.7) scale(0.975,1)" font-size="62" text-anchor="end">250</text>
<text class="yt" transform="translate(221,430.9) scale(0.975,1)" font-size="62" text-anchor="end">300</text>
<text class="yt" transform="translate(221,357.0) scale(0.975,1)" font-size="62" text-anchor="end">350</text>
<text class="yt" transform="translate(221,283.2) scale(0.975,1)" font-size="62" text-anchor="end">400</text>
<text class="yt" transform="translate(221,209.3) scale(0.975,1)" font-size="62" text-anchor="end">450</text>
<text class="yt" transform="translate(221,135.5) scale(0.975,1)" font-size="62" text-anchor="end">500</text>
<text class="xt" x="249.5" y="930.9" font-size="62.3" text-anchor="middle">0</text>
<text class="xt" x="405.9" y="930.9" font-size="62.3" text-anchor="middle">0.1</text>
<text class="xt" x="564.4" y="930.9" font-size="62.3" text-anchor="middle">0.2</text>
<text class="xt" x="721.2" y="930.9" font-size="62.3" text-anchor="middle">0.3</text>
<text class="xt" x="876.6" y="930.9" font-size="62.3" text-anchor="middle">0.4</text>
<text class="xt" x="1035.1" y="930.9" font-size="62.3" text-anchor="middle">0.5</text>
<text class="xt" x="1190.6" y="930.9" font-size="62.3" text-anchor="middle">0.6</text>
<text class="xt" x="1348.3" y="930.9" font-size="62.3" text-anchor="middle">0.7</text>
<text class="xt" x="1504.7" y="930.9" font-size="62.3" text-anchor="middle">0.8</text>
<text class="xt" x="1663.7" y="930.9" font-size="62.3" text-anchor="middle">0.9</text>
<text class="xt" x="1819.0" y="930.9" font-size="62.3" text-anchor="middle">1</text>
</g>
<g id="ylabel" transform="translate(79.7,481.5) rotate(-90)" font-size="66.5">
<text x="-78" font-size="73" stroke="#3a3f42" stroke-width="1.4" fill="#3a3f42">|</text>
<text x="-61" font-style="italic">T</text>
<text x="-20">(</text>
<text transform="translate(1,0) scale(1.32,1)" font-style="italic" font-size="68">f</text>
<text x="41">)</text>
<text x="63" font-size="73" stroke="#3a3f42" stroke-width="1.4" fill="#3a3f42">|</text>
</g>
</svg></body></html>
